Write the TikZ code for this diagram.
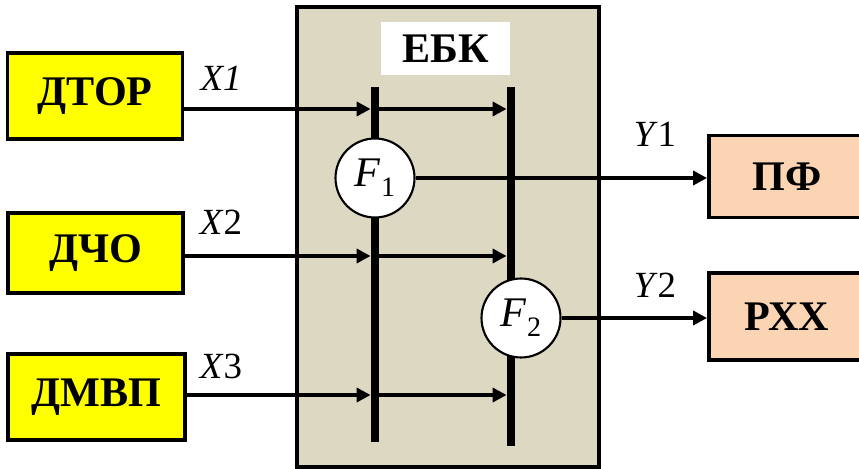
\documentclass[tikz,border=0pt]{standalone}
\usepackage{fontspec}
\setmainfont{Liberation Serif}
\usetikzlibrary{arrows.meta}
\definecolor{ebkfill}{RGB}{220,216,193}
\definecolor{outfill}{RGB}{251,212,180}
\definecolor{sensfill}{RGB}{255,255,0}
\begin{document}
\begin{tikzpicture}[x=0.02cm,y=-0.02cm,
    sensor/.style={draw,line width=2.2pt,fill=sensfill,inner sep=0pt,minimum width=3.5cm,
      font=\fontsize{24}{28}\selectfont\bfseries},
    outbox/.style={draw,line width=2.2pt,fill=outfill,inner sep=0pt,minimum width=3.12cm,
      minimum height=1.64cm,font=\fontsize{24}{28}\selectfont\bfseries},
    func/.style={draw,circle,fill=white,line width=1.2pt,minimum size=1.58cm,inner sep=0pt,
      font=\fontsize{24}{28}\selectfont},
    bar/.style={fill=black,inner sep=0pt,minimum width=4.6pt},
    sig/.style={line width=2pt,-{Triangle[length=8pt,width=8pt]}},
    lbl/.style={font=\fontsize{21}{24}\selectfont}]
    \useasboundingbox (0,0) rectangle (859,469);
    \node[draw,line width=1.8pt,fill=ebkfill,minimum width=6.04cm,minimum height=9.2cm] (ebk) at (448,237) {};
    \node[fill=white,minimum width=2.58cm,minimum height=1.06cm,inner sep=0pt,
      font=\fontsize{24}{28}\selectfont\bfseries] (ebkname) at (445.5,48.5) {ЕБК};
    \node[sensor,minimum height=1.72cm] (dtor) at (95,96) {ДТОР};
    \node[sensor,minimum height=1.6cm] (dcho) at (95.5,253) {ДЧО};
    \node[sensor,minimum height=1.72cm,minimum width=3.54cm] (dmvp) at (96.5,397) {ДМВП};
    \node[outbox] (pf) at (787,176.5) {ПФ};
    \node[outbox,minimum height=1.74cm] (rxx) at (787,316.5) {РХХ};
    \node[bar,minimum height=7.1cm] (bar1) at (375,264.5) {};
    \node[bar,minimum height=7.18cm] (bar2) at (511,266.5) {};
    \coordinate (lx1) at (0,109);
    \coordinate (lx2) at (0,256);
    \coordinate (lx3) at (0,395);
    \draw[sig] (dtor.east |- lx1) -- (bar1.west |- lx1);
    \draw[sig] (dcho.east |- lx2) -- (bar1.west |- lx2);
    \draw[sig] (dmvp.east |- lx3) -- (bar1.west |- lx3);
    \draw[sig] (bar1.east |- lx1) -- (bar2.west |- lx1);
    \draw[sig] (bar1.east |- lx2) -- (bar2.west |- lx2);
    \draw[sig] (bar1.east |- lx3) -- (bar2.west |- lx3);
    \node[func] (f1) at (375,178) {\textit{F}\raisebox{-.5ex}{\fontsize{16}{16}\selectfont 1}};
    \node[func] (f2) at (521,318) {\textit{F}\raisebox{-.5ex}{\fontsize{16}{16}\selectfont 2}};
    \draw[sig] (f1.east) -- (pf.west |- f1.east);
    \draw[sig] (f2.east) -- (rxx.west |- f2.east);
    \node[lbl] (x1) at (221,78) {\textit{X1}};
    \node[lbl] (x2) at (221,222) {\textit{X}2};
    \node[lbl] (x3) at (221,366) {\textit{X}3};
    \node[lbl] (y1) at (655,134) {\textit{Y}1};
    \node[lbl] (y2) at (655,285) {\textit{Y}2};
\end{tikzpicture}
\end{document}
